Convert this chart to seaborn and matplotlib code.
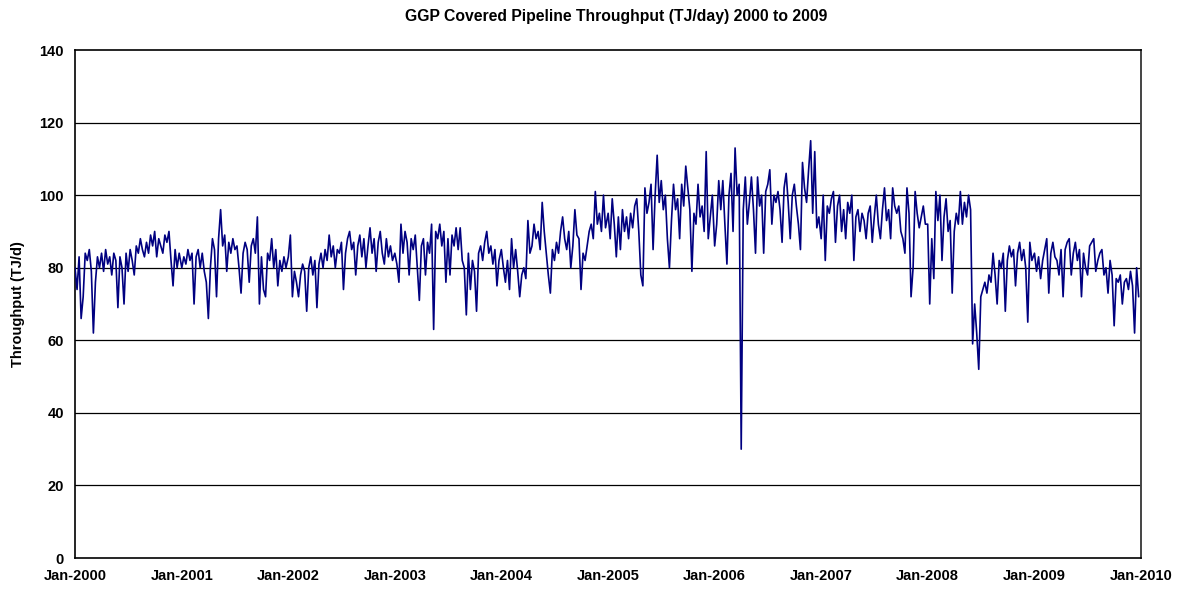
import numpy as np
import pandas as pd
import matplotlib
matplotlib.use("Agg")
import matplotlib.pyplot as plt
import seaborn as sns

# Weekly throughput estimates (TJ/day)
y2000 = [80, 74, 83, 66, 72, 84, 82, 85, 79, 62, 76, 83, 80, 84, 79, 85, 81, 83, 78, 84, 82, 69, 83, 80, 70, 84,
         79, 85, 82, 78, 86, 84, 88, 85, 83, 87, 84, 89, 86, 90, 83, 88, 86, 84, 89, 87, 90, 82, 75, 85, 80, 84]
y2001 = [80, 83, 81, 85, 82, 84, 70, 83, 85, 80, 84, 79, 76, 66, 80, 88, 85, 72, 88, 96, 86, 89, 79, 87, 84, 88,
         85, 86, 80, 73, 84, 87, 85, 76, 86, 88, 84, 94, 70, 83, 74, 72, 84, 82, 88, 80, 85, 75, 82, 79, 83, 80]
y2002 = [83, 89, 72, 79, 76, 72, 78, 81, 79, 68, 80, 83, 78, 82, 69, 81, 84, 80, 85, 82, 89, 83, 86, 80, 85, 84,
         87, 74, 84, 88, 90, 85, 87, 78, 86, 89, 83, 88, 80, 86, 91, 84, 88, 79, 87, 90, 84, 81, 88, 83, 86, 82]
y2003 = [84, 81, 76, 92, 84, 90, 87, 78, 88, 85, 89, 80, 71, 86, 88, 78, 87, 84, 92, 63, 90, 88, 92, 86, 90, 76,
         88, 78, 89, 86, 91, 85, 91, 82, 80, 67, 84, 74, 82, 79, 68, 84, 86, 82, 87, 90, 84, 86, 81, 85, 75, 82]
y2004 = [85, 80, 76, 82, 74, 88, 80, 85, 79, 72, 78, 80, 77, 93, 84, 86, 92, 88, 90, 85, 98, 90, 84, 78, 73, 85,
         82, 87, 84, 90, 94, 88, 85, 90, 80, 86, 96, 89, 88, 74, 84, 82, 86, 90, 92, 88, 101, 92, 95, 90, 100, 91]
y2005 = [95, 88, 99, 92, 83, 94, 85, 96, 90, 94, 88, 95, 91, 97, 99, 90, 78, 75, 102, 95, 98, 103, 85, 100, 111, 98,
         104, 96, 100, 88, 80, 93, 103, 96, 99, 88, 103, 97, 108, 102, 96, 79, 95, 92, 103, 94, 97, 90, 112, 88, 94, 100]
y2006 = [86, 92, 104, 96, 104, 92, 81, 100, 106, 90, 113, 100, 103, 30, 96, 105, 92, 98, 105, 96, 84, 105, 97, 100, 84, 101,
         103, 107, 92, 100, 98, 101, 96, 87, 102, 106, 98, 88, 100, 103, 97, 92, 85, 109, 102, 98, 107, 115, 95, 112, 91, 94]
y2007 = [88, 100, 82, 97, 95, 99, 101, 87, 97, 100, 90, 96, 88, 98, 95, 100, 82, 94, 96, 90, 95, 93, 88, 95, 97, 87,
         94, 100, 92, 88, 96, 102, 93, 96, 88, 102, 97, 95, 97, 90, 88, 84, 102, 95, 72, 80, 101, 95, 91, 94, 97, 92]
y2008 = [92, 70, 88, 77, 101, 93, 100, 82, 94, 99, 90, 93, 73, 90, 95, 92, 101, 92, 98, 94, 100, 96, 59, 70, 62, 52,
         72, 74, 76, 73, 78, 76, 84, 78, 70, 82, 80, 84, 68, 82, 86, 83, 85, 75, 84, 87, 82, 85, 80, 65, 87, 82]
y2009 = [84, 79, 83, 77, 82, 85, 88, 73, 84, 87, 83, 82, 78, 85, 72, 85, 87, 88, 78, 84, 87, 82, 85, 72, 84, 80,
         78, 86, 87, 88, 79, 82, 84, 85, 78, 80, 73, 82, 78, 64, 77, 76, 78, 70, 76, 77, 74, 79, 75, 62, 80, 72]

years = list(range(2000, 2010))
series = [y2000, y2001, y2002, y2003, y2004, y2005, y2006, y2007, y2008, y2009]
tick_years = list(range(2000, 2011))
tick_labels = [f"Jan-{y}" for y in tick_years]
y_ticks = [0, 20, 40, 60, 80, 100, 120, 140]

frames = []
for yr, vals in zip(years, series):
    dates = pd.date_range(f"{yr}-01-01", periods=len(vals), freq="7D")
    frames.append(pd.DataFrame({"date": dates, "value": vals}))
df = pd.concat(frames, ignore_index=True)

sns.set_style("white")
plt.rcParams["font.family"] = ["Liberation Sans", "DejaVu Sans"]
plt.rcParams["text.color"] = "black"
plt.rcParams["axes.labelcolor"] = "black"
plt.rcParams["xtick.color"] = "black"
plt.rcParams["ytick.color"] = "black"

fig = plt.figure(figsize=(11.84, 5.91), dpi=100)
ax = fig.add_axes([75 / 1184, 1 - 558 / 591, (1141 - 75) / 1184, (558 - 50) / 591])

for y in y_ticks[1:-1]:
    ax.axhline(y, color="black", lw=0.9, zorder=1)

sns.lineplot(data=df, x="date", y="value", ax=ax, color="#000080", lw=1.2, zorder=3)

ax.set_xlim(pd.Timestamp("2000-01-01"), pd.Timestamp("2010-01-01"))
ax.set_ylim(0, 140)
ax.set_xticks([pd.Timestamp(f"{y}-01-01") for y in tick_years])
ax.set_xticklabels(tick_labels, fontsize=10.5, fontweight="bold", color="black")
ax.set_yticks(y_ticks)
ax.set_yticklabels([str(v) for v in y_ticks], fontsize=10.5, fontweight="bold", color="black")
ax.tick_params(axis="both", direction="out", length=5, width=1, color="black", pad=3)
ax.set_xlabel("")
ax.set_ylabel("Throughput (TJ/d)", fontsize=10.5, fontweight="bold", labelpad=10, color="black")

for side in ["left", "bottom", "top"]:
    ax.spines[side].set_color("black")
    ax.spines[side].set_linewidth(1.2)
ax.spines["right"].set_color("#444444")
ax.spines["right"].set_linewidth(1.4)

fig.suptitle("GGP Covered Pipeline Throughput (TJ/day) 2000 to 2009", x=616 / 1184, y=1 - 16 / 591,
             fontsize=11.3, fontweight="bold", va="center", color="black")

fig.savefig("out.png", dpi=100)
